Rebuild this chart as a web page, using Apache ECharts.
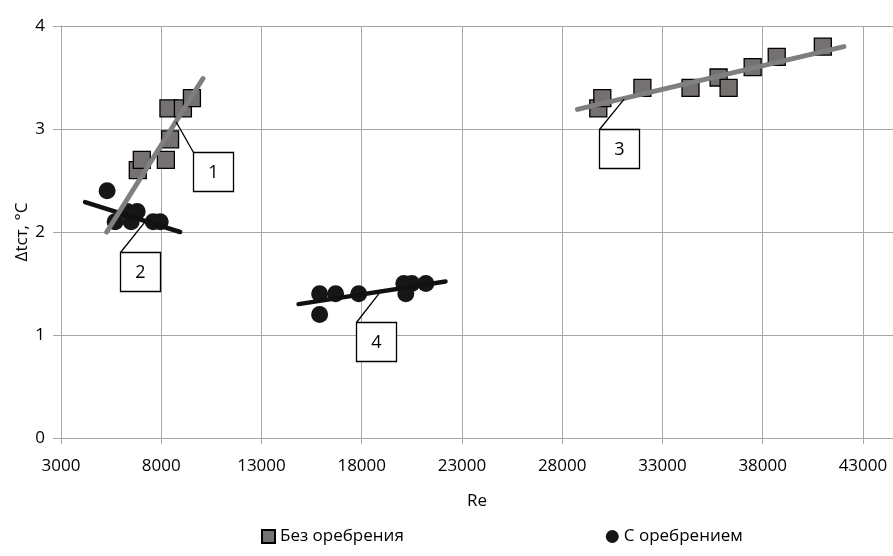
<!DOCTYPE html>
<html>
<head>
<meta charset="utf-8">
<script src="https://cdn.jsdelivr.net/npm/echarts@6/dist/echarts.min.js"></script>
<style>
  html, body { margin: 0; padding: 0; background: #ffffff; }
  #chart { width: 893px; height: 556px; }
</style>
</head>
<body>
<div id="chart"></div>
<script>
// Series "Без оребрения" (square markers)
const plainRe = [6830, 7030, 8230, 8440, 8360, 9080, 9530,
                 29800, 30000, 32000, 34400, 35800, 36300, 37500, 38700, 41000];
const plainDt = [2.6, 2.7, 2.7, 2.9, 3.2, 3.2, 3.3,
                 3.2, 3.3, 3.4, 3.4, 3.5, 3.4, 3.6, 3.7, 3.8];

// Series "С оребрением" (circle markers)
const finnedRe = [5300, 5700, 6300, 6500, 6800, 7600, 7950,
                  15900, 16700, 15900, 17850, 20100, 20200, 20500, 21200];
const finnedDt = [2.4, 2.1, 2.2, 2.1, 2.2, 2.1, 2.1,
                  1.4, 1.4, 1.2, 1.4, 1.5, 1.4, 1.5, 1.5];

// Linear trend lines: start / end points
const trend1Re = [5280, 10080];  const trend1Dt = [2.0, 3.49];
const trend2Re = [4200, 8940];   const trend2Dt = [2.29, 2.0];
const trend3Re = [28760, 42050]; const trend3Dt = [3.19, 3.80];
const trend4Re = [14850, 22180]; const trend4Dt = [1.30, 1.52];

// Numbered callouts: anchor on the trend line, box centre
const calloutText = ['1', '2', '3', '4'];
const calloutAnchorRe = [8740, 7200, 31090, 18850];
const calloutAnchorDt = [3.07, 2.10, 3.29, 1.40];
const calloutBoxRe = [10580, 6960, 30840, 18720];
const calloutBoxDt = [2.59, 1.62, 2.81, 0.94];

// Axis ranges and ticks
const xMin = 3000, xMax = 44500, xStep = 5000;
const yMin = 0, yMax = 4, yStep = 1;

const FONT = '"Open Sans", "Noto Sans", sans-serif';
const zip = (a, b) => a.map((v, i) => [v, b[i]]);

const chart = echarts.init(document.getElementById('chart'), null, { renderer: 'canvas' });

function trendSeries(re, dt, color, width, z) {
  return {
    type: 'line',
    data: zip(re, dt),
    showSymbol: false,
    symbol: 'none',
    silent: true,
    z: z,
    lineStyle: { color: color, width: width, cap: 'round' }
  };
}

chart.setOption({
  animation: false,
  backgroundColor: '#ffffff',
  textStyle: { fontFamily: FONT },
  grid: { left: 61, right: 0, top: 26, bottom: 118, containLabel: false },
  legend: {
    left: 256,
    top: 523,
    padding: 5,
    itemGap: 202,
    itemWidth: 13,
    itemHeight: 13,
    itemTextGap: 5,
    textStyle: { fontFamily: FONT, fontSize: 17, color: '#000' },
    data: [
      { name: 'Без оребрения', icon: 'rect' },
      { name: 'С оребрением', icon: 'circle' }
    ]
  },
  xAxis: {
    type: 'value',
    min: xMin, max: xMax, interval: xStep,
    name: 'Re',
    nameLocation: 'middle',
    nameGap: 55,
    nameMoveOverlap: false,
    nameTextStyle: { fontFamily: FONT, fontSize: 17, color: '#000' },
    axisLine: { show: true, lineStyle: { color: '#a6a6a6', width: 1 } },
    axisTick: { show: true, length: 6, lineStyle: { color: '#a6a6a6' } },
    axisLabel: {
      margin: 20, fontFamily: FONT, fontSize: 17, color: '#000', showMaxLabel: false,
      formatter: v => String(v)
    },
    splitLine: { show: true, lineStyle: { color: '#a6a6a6', width: 1 } }
  },
  yAxis: {
    type: 'value',
    min: yMin, max: yMax, interval: yStep,
    name: 'Δtст, °C',
    nameLocation: 'middle',
    nameGap: 30,
    nameMoveOverlap: false,
    nameRotate: 90,
    nameTextStyle: { fontFamily: FONT, fontSize: 17, color: '#000' },
    axisLine: { show: true, lineStyle: { color: '#a6a6a6', width: 1 } },
    axisTick: { show: true, length: 8, lineStyle: { color: '#a6a6a6' } },
    axisLabel: { margin: 16, fontFamily: FONT, fontSize: 17, color: '#000' },
    splitLine: { show: true, lineStyle: { color: '#a6a6a6', width: 1 } }
  },
  series: [
    {
      name: 'Без оребрения',
      type: 'scatter',
      symbol: 'rect',
      symbolSize: 17,
      z: 2,
      itemStyle: { color: '#767171', borderColor: '#000000', borderWidth: 1.3, opacity: 1 },
      data: zip(plainRe, plainDt)
    },
    {
      name: 'С оребрением',
      type: 'scatter',
      symbol: 'circle',
      symbolSize: 17,
      z: 2,
      itemStyle: { color: '#161616', opacity: 1 },
      data: zip(finnedRe, finnedDt)
    },
    trendSeries(trend2Re, trend2Dt, '#111111', 4.5, 3),
    trendSeries(trend4Re, trend4Dt, '#111111', 4.5, 3),
    trendSeries(trend1Re, trend1Dt, '#7f7f7f', 5, 4),
    trendSeries(trend3Re, trend3Dt, '#7f7f7f', 5, 4),
    {
      type: 'custom',
      silent: true,
      z: 5,
      data: calloutText.map((t, i) => [calloutAnchorRe[i], calloutAnchorDt[i], calloutBoxRe[i], calloutBoxDt[i]]),
      renderItem: function (params, api) {
        const i = params.dataIndex;
        const a = api.coord([calloutAnchorRe[i], calloutAnchorDt[i]]);
        const c = api.coord([calloutBoxRe[i], calloutBoxDt[i]]);
        const w = 40, h = 39;
        const x0 = Math.round(c[0] - w / 2) + 0.5, y0 = Math.round(c[1] - h / 2) + 0.5;
        return {
          type: 'group',
          children: [
            {
              type: 'line',
              shape: { x1: a[0], y1: a[1], x2: x0, y2: y0 },
              style: { stroke: '#000', lineWidth: 1.3 }
            },
            {
              type: 'rect',
              shape: { x: x0, y: y0, width: w, height: h },
              style: { fill: '#ffffff', stroke: '#000', lineWidth: 1.3 }
            },
            {
              type: 'text',
              x: x0 + w / 2,
              y: y0 + h / 2 + 1,
              style: {
                text: calloutText[i],
                fill: '#000',
                font: '18px ' + FONT,
                align: 'center',
                verticalAlign: 'middle'
              }
            }
          ]
        };
      }
    }
  ]
});
</script>
</body>
</html>
